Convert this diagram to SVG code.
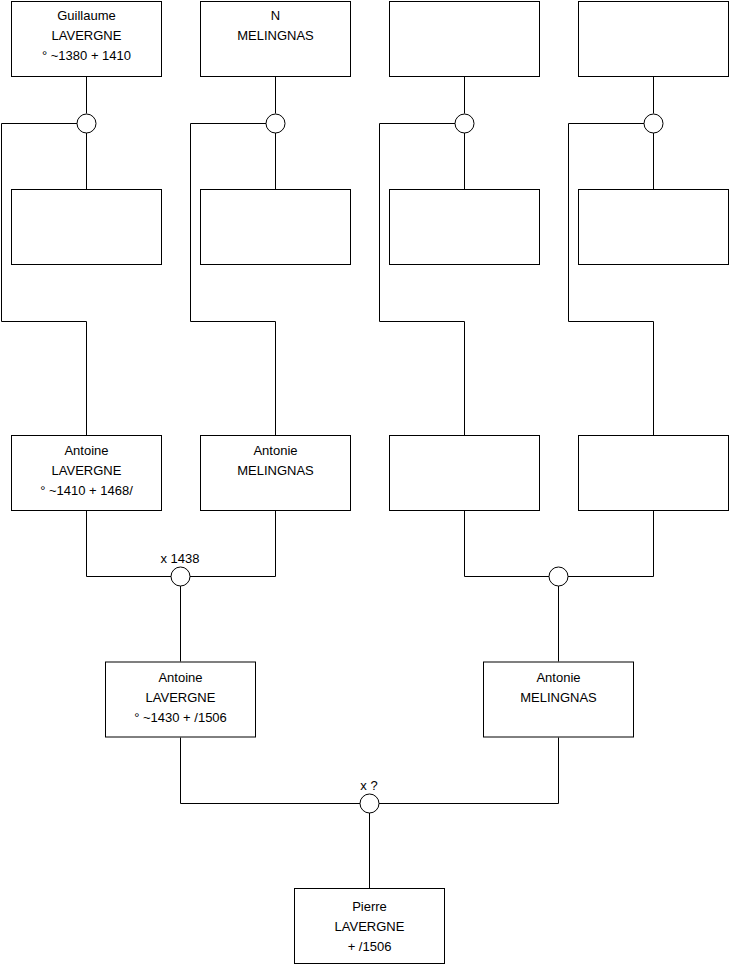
<svg xmlns="http://www.w3.org/2000/svg" width="740" height="975" viewBox="0 0 740 975">
<style>
.box{fill:#fff;stroke:#000;stroke-width:1}
.c{fill:#fff;stroke:#000;stroke-width:1}
.ln{fill:none;stroke:#000;stroke-width:1}
text{font-family:"Liberation Sans",Arial,sans-serif;font-size:13px;fill:#000;text-anchor:middle}
</style>
<rect width="740" height="975" fill="#fff"/>
<g id="connectors">
<path class="ln" d="M86.5 76V113.5M86.5 132.5V189.5M77 123.5H1.5V321.5H86.5V435"/>
<path class="ln" d="M275.5 76V113.5M275.5 132.5V189.5M266 123.5H190.5V321.5H275.5V435"/>
<path class="ln" d="M464.5 76V113.5M464.5 132.5V189.5M455 123.5H379.5V321.5H464.5V435"/>
<path class="ln" d="M653.5 76V113.5M653.5 132.5V189.5M644 123.5H568.5V321.5H653.5V435"/>
<path class="ln" d="M86.5 511V576.5H171M275.5 511V576.5H190M180.5 586V661.5"/>
<path class="ln" d="M464.5 511V576.5H549M653.5 511V576.5H568M558.5 586V661.5"/>
<path class="ln" d="M180.5 737.5V803.5H360M558.5 737.5V803.5H379M369.5 813V888.5"/>
</g>
<g id="m1"><circle class="c" cx="86.5" cy="123.5" r="9.5"/></g>
<g id="m2"><circle class="c" cx="275.5" cy="123.5" r="9.5"/></g>
<g id="m3"><circle class="c" cx="464.5" cy="123.5" r="9.5"/></g>
<g id="m4"><circle class="c" cx="653.5" cy="123.5" r="9.5"/></g>
<g id="m5"><circle class="c" cx="180.5" cy="576.5" r="9.5"/><text x="180" y="563">x 1438</text></g>
<g id="m6"><circle class="c" cx="558.5" cy="576.5" r="9.5"/></g>
<g id="m7"><circle class="c" cx="369.5" cy="803.5" r="9.5"/><text x="369" y="790">x ?</text></g>
<g id="n1"><rect class="box" x="11.5" y="1.5" width="150" height="75"/><text x="86.5" y="20">Guillaume</text><text x="86.5" y="40">LAVERGNE</text><text x="86.5" y="60">° ~1380 + 1410</text></g>
<g id="n2"><rect class="box" x="200.5" y="1.5" width="150" height="75"/><text x="275.5" y="20">N</text><text x="275.5" y="40">MELINGNAS</text></g>
<g id="n3"><rect class="box" x="389.5" y="1.5" width="150" height="75"/></g>
<g id="n4"><rect class="box" x="578.5" y="1.5" width="150" height="75"/></g>
<g id="n5"><rect class="box" x="11.5" y="189.5" width="150" height="75"/></g>
<g id="n6"><rect class="box" x="200.5" y="189.5" width="150" height="75"/></g>
<g id="n7"><rect class="box" x="389.5" y="189.5" width="150" height="75"/></g>
<g id="n8"><rect class="box" x="578.5" y="189.5" width="150" height="75"/></g>
<g id="n9"><rect class="box" x="11.5" y="435.5" width="150" height="75"/><text x="86.5" y="455">Antoine</text><text x="86.5" y="475">LAVERGNE</text><text x="86.5" y="495">° ~1410 + 1468/</text></g>
<g id="n10"><rect class="box" x="200.5" y="435.5" width="150" height="75"/><text x="275.5" y="455">Antonie</text><text x="275.5" y="475">MELINGNAS</text></g>
<g id="n11"><rect class="box" x="389.5" y="435.5" width="150" height="75"/></g>
<g id="n12"><rect class="box" x="578.5" y="435.5" width="150" height="75"/></g>
<g id="n13"><rect class="box" x="105.5" y="662" width="150" height="75"/><text x="180.5" y="682">Antoine</text><text x="180.5" y="702">LAVERGNE</text><text x="180.5" y="722">° ~1430 + /1506</text></g>
<g id="n14"><rect class="box" x="483.5" y="662" width="150" height="75"/><text x="558.5" y="682">Antonie</text><text x="558.5" y="702">MELINGNAS</text></g>
<g id="n15"><rect class="box" x="294.5" y="888.5" width="150" height="75"/><text x="369.5" y="911">Pierre</text><text x="369.5" y="931">LAVERGNE</text><text x="369.5" y="951">+ /1506</text></g>
</svg>
